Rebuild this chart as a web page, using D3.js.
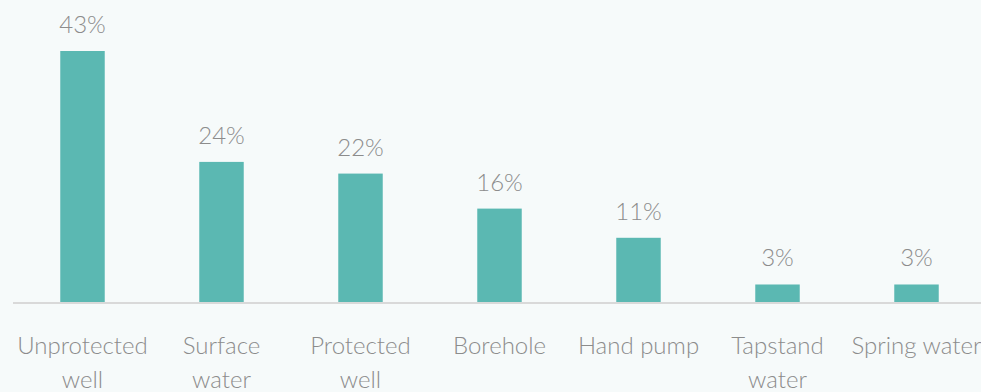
<!DOCTYPE html>
<html>
<head>
<meta charset="utf-8">
<script src="https://cdn.jsdelivr.net/npm/d3@7"></script>
<style>
  html, body { margin: 0; padding: 0; background: #f6fafa; }
  svg { display: block; }
  text { font-family: Lato, "Open Sans", sans-serif; font-weight: 300; fill: #8c8c8c; }
</style>
</head>
<body>
<svg id="chart" width="981" height="392"></svg>
<script>
// Main drinking-water sources (% of households)
const categories = ["Unprotected well", "Surface water", "Protected well", "Borehole", "Hand pump", "Tapstand water", "Spring water"];
const values = [43, 24, 22, 16, 11, 3, 3];
// Axis tick labels, one entry per line
const tickLabels = [
  ["Unprotected", "well"],
  ["Surface", "water"],
  ["Protected", "well"],
  ["Borehole"],
  ["Hand pump"],
  ["Tapstand", "water"],
  ["Spring water"]
];

const svg = d3.select("#chart");
const W = 981, H = 392;
const baseY = 302;

const x = d3.scaleBand()
  .domain(categories)
  .range([13, 986])
  .paddingInner(0.68)
  .paddingOuter(0.34);

const y = d3.scaleLinear()
  .domain([0, 43])
  .range([baseY, 51]);

// bars
svg.append("g")
  .selectAll("rect")
  .data(categories)
  .join("rect")
  .attr("x", d => x(d))
  .attr("width", x.bandwidth())
  .attr("y", (d, i) => y(values[i]))
  .attr("height", (d, i) => baseY - y(values[i]))
  .attr("fill", "#5bb8b2");

// value labels
svg.append("g")
  .selectAll("text")
  .data(categories)
  .join("text")
  .attr("x", d => x(d) + x.bandwidth() / 2)
  .attr("y", (d, i) => y(values[i]) - 18)
  .attr("text-anchor", "middle")
  .attr("font-size", 24)
  .text((d, i) => values[i] + "%");

// category axis
const axis = d3.axisBottom(x).tickSize(0).tickPadding(0).tickFormat(() => "");
const gAxis = svg.append("g")
  .attr("transform", `translate(0,${baseY + 1})`)
  .call(axis);
gAxis.select(".domain")
  .attr("stroke", "#d9d9d9")
  .attr("stroke-width", 2)
  .attr("d", `M13,0H${W}`);

gAxis.selectAll(".tick").each(function(d, i) {
  const t = d3.select(this).append("text")
    .attr("text-anchor", "middle")
    .attr("font-size", 24)
    .attr("y", 51);
  tickLabels[i].forEach((line, j) => {
    t.append("tspan")
      .attr("x", 0)
      .attr("dy", j === 0 ? 0 : 34)
      .text(line);
  });
});
</script>
</body>
</html>
